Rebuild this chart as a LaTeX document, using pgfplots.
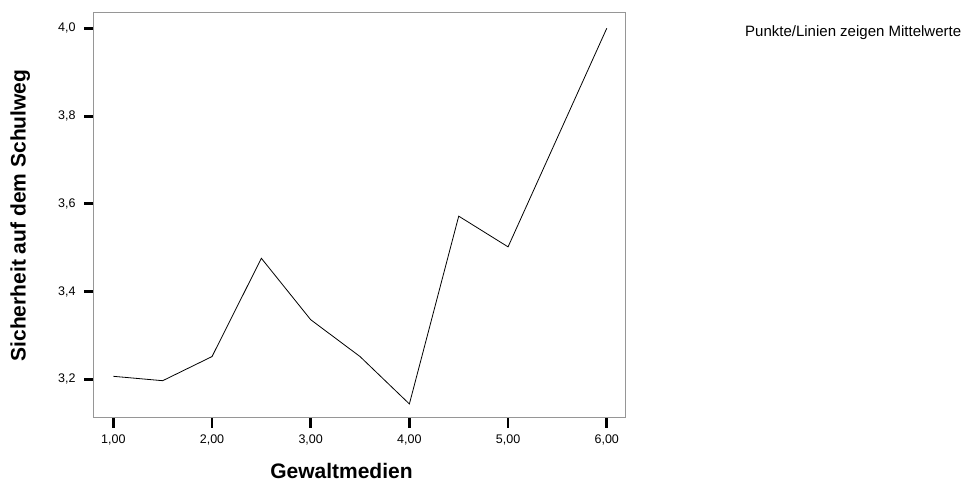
\documentclass[border=0pt]{standalone}
\usepackage{fontspec}
\setmainfont{Liberation Sans}
\usepackage{pgfplots}
\pgfplotsset{compat=1.18}
\definecolor{axisgray}{RGB}{150,150,150}
\begin{document}
\begin{tikzpicture}[x=1pt,y=1pt]
\useasboundingbox (0,0) rectangle (962,481);
\begin{axis}[
  at={(94pt,63pt)}, anchor=south west,
  scale only axis, width=531pt, height=405pt,
  xmin=0.804, xmax=6.185, ymin=3.112, ymax=4.035,
  xtick={1,2,3,4,5,6},
  ytick={3.2,3.4,3.6,3.8,4.0},
  minor tick num=0,
  tick pos=left, tick align=outside,
  major tick length=10pt,
  every tick/.style={black, line width=2.8pt},
  axis line style={axisgray, line width=1pt},
  /pgf/number format/assume math mode=true,
  xticklabel style={yshift=-3pt, font=\fontsize{12.5}{14}\selectfont, /pgf/number format/.cd, use comma, fixed, fixed zerofill, precision=2},
  yticklabel style={xshift=-5pt, font=\fontsize{12.5}{14}\selectfont, /pgf/number format/.cd, use comma, fixed, fixed zerofill, precision=1},
  xlabel={Gewaltmedien},
  ylabel={Sicherheit auf dem Schulweg},
  xlabel style={font=\bfseries\fontsize{21}{25}\selectfont, at={(axis description cs:0.466,-0.13)}, anchor=center},
  ylabel style={font=\bfseries\fontsize{21}{25}\selectfont, at={(axis description cs:-0.139,0.5)}, anchor=center},
  clip=false,
]
\addplot[black, line width=0.8pt, no marks] coordinates {
  (1.0,3.207) (1.5,3.197) (2.0,3.252) (2.5,3.476) (3.0,3.336)
  (3.5,3.252) (4.0,3.144) (4.5,3.572) (5.0,3.502) (6.0,4.0)
};
\end{axis}
\node[anchor=base west, inner sep=0pt, font=\fontsize{15}{17}\selectfont] at (745,444.3) {Punkte/Linien zeigen Mittelwerte};
\end{tikzpicture}
\end{document}
